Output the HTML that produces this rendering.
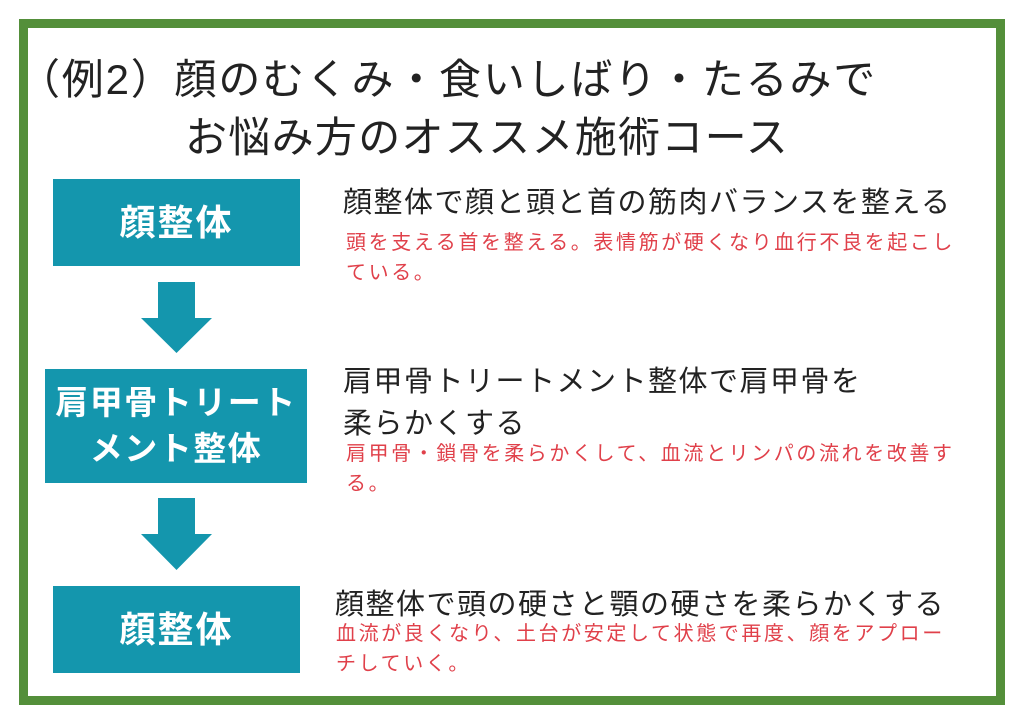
<!DOCTYPE html>
<html><head><meta charset="utf-8"><style>
body{margin:0;width:1024px;height:724px;background:#fff;position:relative;overflow:hidden;font-family:"Liberation Sans","Noto Sans CJK JP",sans-serif}
.frame{position:absolute;left:19px;top:19px;width:968px;height:668px;border:9px solid #548f3a}
.t{position:absolute;white-space:nowrap;color:#222}
.box{position:absolute;background:#1496ad;color:#fff;font-weight:bold;display:flex;align-items:center;justify-content:center;text-align:center;font-size:36px;letter-spacing:2px;line-height:46px}
.k{position:absolute;font-size:29px;letter-spacing:1.5px;color:#222;white-space:nowrap}
.r{position:absolute;font-size:20px;letter-spacing:2.6px;color:#e0404a;line-height:30px;white-space:nowrap}
</style></head><body>
<div class="frame"></div>
<div class="t" style="left:18px;top:46px;font-size:42px;letter-spacing:1.8px">（例2）顔のむくみ・食いしばり・たるみで</div>
<div class="t" style="left:185px;top:104px;font-size:42px;letter-spacing:1.3px">お悩み方のオススメ施術コース</div>
<div class="box" style="left:53px;top:179px;width:247px;height:87px">顔整体</div>
<div class="box" style="left:45px;top:369px;width:262px;height:114px;font-size:33px;letter-spacing:1.5px">肩甲骨トリート<br>メント整体</div>
<div class="box" style="left:53px;top:586px;width:247px;height:87px">顔整体</div>
<svg style="position:absolute;left:0;top:0" width="1024" height="724">
<polygon points="158,282 195,282 195,318 212,318 176.5,353 141,318 158,318" fill="#1496ad"/>
<polygon points="158,498 195,498 195,534 212,534 176.5,570 141,534 158,534" fill="#1496ad"/>
</svg>
<div class="k" style="left:343px;top:179px">顔整体で顔と頭と首の筋肉バランスを整える</div>
<div class="r" style="left:346px;top:228px">頭を支える首を整える。表情筋が硬くなり血行不良を起こし<br>ている。</div>
<div class="k" style="left:343px;top:361px;line-height:42px">肩甲骨トリートメント整体で肩甲骨を<br>柔らかくする</div>
<div class="r" style="left:346px;top:439px">肩甲骨・鎖骨を柔らかくして、血流とリンパの流れを改善す<br>る。</div>
<div class="k" style="left:335px;top:581px">顔整体で頭の硬さと顎の硬さを柔らかくする</div>
<div class="r" style="left:336px;top:619px">血流が良くなり、土台が安定して状態で再度、顔をアプロー<br>チしていく。</div>
</body></html>
